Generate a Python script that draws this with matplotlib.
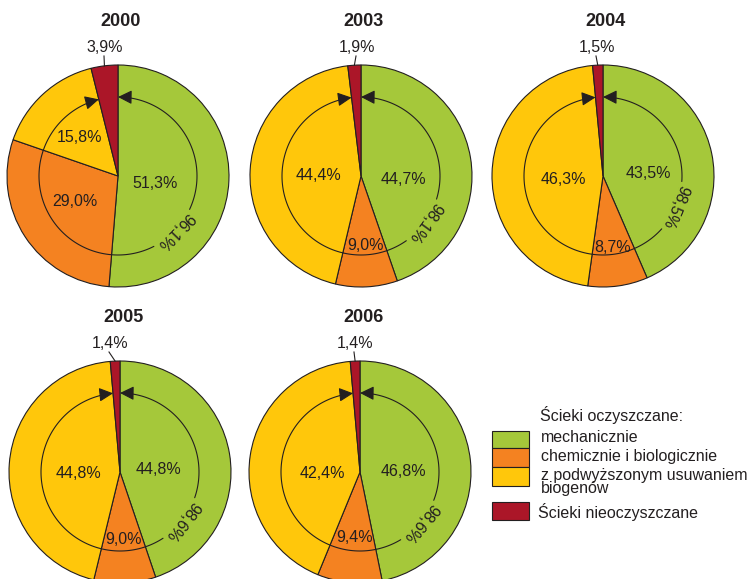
import matplotlib
matplotlib.use("Agg")
import matplotlib.pyplot as plt
from matplotlib.patches import FancyArrowPatch, Rectangle
from matplotlib.path import Path
import numpy as np

plt.rcParams['font.family'] = ['Liberation Sans', 'DejaVu Sans']

# dane
lata = ['2000', '2003', '2004', '2005', '2006']
mechaniczne = [51.3, 44.7, 43.5, 44.8, 46.8]
chemiczne = [29.0, 9.0, 8.7, 9.0, 9.4]
biogeny = [15.8, 44.4, 46.3, 44.8, 42.4]
nieoczyszczane = [3.9, 1.9, 1.5, 1.4, 1.4]

kolory = ['#a5c83a', '#f48221', '#ffc70b', '#ab1628']
naglowek = 'Ścieki oczyszczane:'
legenda = ['mechanicznie', 'chemicznie i biologicznie', 'z podwyższonym usuwaniem\nbiogenów']
legenda_nie = 'Ścieki nieoczyszczane'

# uklad (piksele, poczatek w lewym gornym rogu)
W, H = 755, 579
srodki = [(118, 176), (361, 176), (603, 176), (120, 472), (360, 472)]
R = 111
r_luk = 79
kat_tekstu = [-44, -36, -23, -38, -40]
przerwa = 19
etykiety_xy = [
    [(37, 7), (-43, 26), (-38, -39)],
    [(42, 4), (4, 69), (-43, -1)],
    [(45, -3), (10, 71), (-40, 4)],
    [(38, -2), (3, 68), (-42, 1)],
    [(43, 0), (-5, 66), (-38, 1)],
]
czerwone_dx = [-13, -4, -6, -10, -5]
ciemny = '#231f20'
fs = 11.5


def pct(v):
    return f"{v:.1f}%".replace('.', ',')


fig = plt.figure(figsize=(W / 100, H / 100), dpi=100)
ax = fig.add_axes([0, 0, 1, 1])

for i in range(len(lata)):
    cx, cy_px = srodki[i]
    cy = H - cy_px
    wart = [mechaniczne[i], chemiczne[i], biogeny[i], nieoczyszczane[i]]
    ax.pie(wart, colors=kolory, startangle=90, counterclock=False,
           center=(cx, cy), radius=R, frame=True,
           wedgeprops=dict(edgecolor=ciemny, linewidth=0.8))

    # tytul
    ax.text(cx + 3, H - 21 - (cy_px - 176), lata[i], ha='center', va='center',
            fontsize=13, fontweight='bold', color=ciemny)

    # etykiety wycinkow
    for j in range(3):
        dx, dy = etykiety_xy[i][j]
        ax.text(cx + dx, cy - dy, pct(wart[j]), ha='center', va='center',
                fontsize=fs, color=ciemny)

    # czerwony wycinek - etykieta z linia
    suma = sum(wart[:3])
    kat_czerw = 90 - 3.6 * suma
    kat_sr = np.radians(90 - 3.6 * (suma + wart[3] / 2))
    lx = cx + czerwone_dx[i]
    ax.text(lx, cy + 129, pct(wart[3]), ha='center', va='center',
            fontsize=fs, color=ciemny)
    ax.plot([lx - 1, cx + R * np.cos(kat_sr)], [cy + 120, cy + R * np.sin(kat_sr)],
            color=ciemny, lw=0.8)

    # luk ze strzalkami
    kt = kat_tekstu[i]
    t1 = np.radians(np.linspace(kt + przerwa, 90, 60))
    t2 = np.radians(np.linspace(kt - przerwa, kat_czerw, 120))
    for t in (t1, t2):
        pts = np.column_stack([cx + r_luk * np.cos(t), cy + r_luk * np.sin(t)])
        ax.add_patch(FancyArrowPatch(path=Path(pts),
                                     arrowstyle='-|>,head_length=0.5,head_width=0.25',
                                     mutation_scale=17, color=ciemny, lw=0.8))
    ktr = np.radians(kt)
    ax.text(cx + r_luk * np.cos(ktr), cy + r_luk * np.sin(ktr), pct(suma),
            rotation=kt - 90, rotation_mode='anchor', ha='center', va='center',
            fontsize=fs, color=ciemny)

# legenda
bx, bw = 492, 37
pola = [(431, 448), (448, 467), (467, 486), (502, 520)]
for k, (y0, y1) in enumerate(pola):
    ax.add_patch(Rectangle((bx, H - y1), bw, y1 - y0, facecolor=kolory[k],
                           edgecolor=ciemny, lw=0.8))
ax.text(540, H - 415, naglowek, ha='left', va='center', fontsize=fs, color=ciemny)
ax.text(541, H - 438, legenda[0], ha='left', va='center', fontsize=fs, color=ciemny)
ax.text(541, H - 457, legenda[1], ha='left', va='center', fontsize=fs, color=ciemny)
ax.text(541, H - 468, legenda[2], ha='left', va='top', fontsize=fs, color=ciemny,
        linespacing=0.8)
ax.text(538, H - 512, legenda_nie, ha='left', va='center', fontsize=fs, color=ciemny)

ax.set_xlim(0, W)
ax.set_ylim(0, H)
ax.axis('off')
fig.savefig('out.png', dpi=100)
